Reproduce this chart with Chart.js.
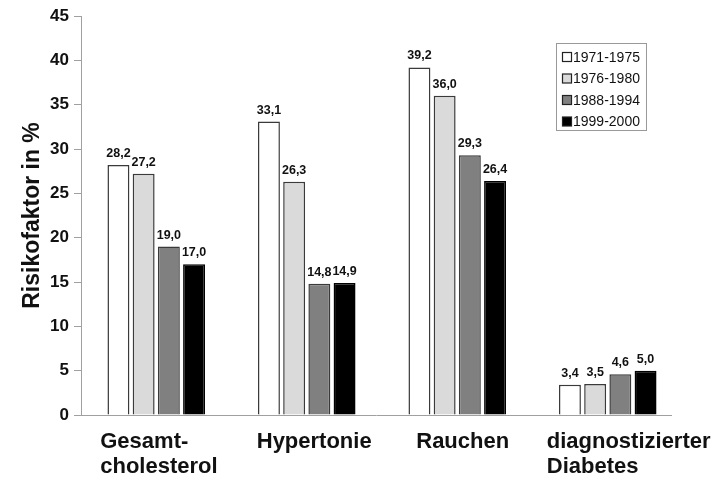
<!DOCTYPE html>
<html>
<head>
<meta charset="utf-8">
<script src="https://cdn.jsdelivr.net/npm/chart.js@4.4.1/dist/chart.umd.min.js"></script>
<style>
  html, body { margin: 0; padding: 0; background: #fff; }
  #wrap { width: 723px; height: 477px; }
</style>
</head>
<body>
<div id="wrap"><canvas id="c"></canvas></div>
<script>
// Risk factors by survey period
const categories = [["Gesamt-", "cholesterol"], ["Hypertonie"], ["Rauchen"], ["diagnostizierter", "Diabetes"]];
const periods = ["1971-1975", "1976-1980", "1988-1994", "1999-2000"];
const values1971 = [28.2, 33.1, 39.2, 3.4];
const values1976 = [27.2, 26.3, 36.0, 3.5];
const values1988 = [19.0, 14.8, 29.3, 4.6];
const values1999 = [17.0, 14.9, 26.4, 5.0];
const yTicks = [0, 5, 10, 15, 20, 25, 30, 35, 40, 45];

const fills = ["#ffffff", "#dadada", "#808080", "#000000"];
const FONT = "Arial, 'Liberation Sans', sans-serif";

const fmt = v => v.toFixed(1).replace(".", ",");

// value labels above bars
const valueLabels = {
  id: "valueLabels",
  afterDatasetsDraw(chart) {
    const ctx = chart.ctx;
    ctx.save();
    ctx.font = "bold 12.5px " + FONT;
    ctx.fillStyle = "#111";
    ctx.textAlign = "center";
    ctx.textBaseline = "alphabetic";
    chart.data.datasets.forEach((ds, di) => {
      chart.getDatasetMeta(di).data.forEach((bar, i) => {
        ctx.fillText(fmt(ds.data[i]), bar.x, bar.y - 8);
      });
    });
    ctx.restore();
  }
};

// baseline, category labels under the axis (left-aligned blocks)
const categoryLabels = {
  id: "categoryLabels",
  afterDraw(chart) {
    const ctx = chart.ctx;
    const x = chart.scales.x;
    const area = chart.chartArea;
    ctx.save();
    ctx.strokeStyle = "#a0a0a0";
    ctx.lineWidth = 1;
    ctx.beginPath();
    ctx.moveTo(area.left, Math.round(area.bottom) + 0.5);
    ctx.lineTo(area.right - 11, Math.round(area.bottom) + 0.5);
    ctx.stroke();

    const shift = [-56, -50, -41, -61];
    ctx.font = "bold 22px " + FONT;
    ctx.fillStyle = "#111";
    ctx.textAlign = "left";
    ctx.textBaseline = "alphabetic";
    categories.forEach((lines, i) => {
      const cx = x.getPixelForValue(i) + shift[i];
      lines.forEach((t, j) => ctx.fillText(t, cx, 448 + j * 25));
    });
    ctx.restore();
  }
};

// boxed legend in the upper right of the plot
const boxLegend = {
  id: "boxLegend",
  afterDraw(chart) {
    const ctx = chart.ctx;
    const left = 556, top = 43, w = 90, h = 87;
    ctx.save();
    ctx.fillStyle = "#fff";
    ctx.fillRect(left, top, w, h);
    ctx.strokeStyle = "#999";
    ctx.lineWidth = 1;
    ctx.strokeRect(left + 0.5, top + 0.5, w, h);
    ctx.font = "14px " + FONT;
    ctx.textBaseline = "middle";
    ctx.textAlign = "left";
    chart.data.datasets.forEach((ds, i) => {
      const y = top + 14 + i * 21.5;
      ctx.fillStyle = ds.backgroundColor;
      ctx.fillRect(left + 6.5, y - 4.5, 9, 9);
      ctx.strokeStyle = "#222";
      ctx.lineWidth = 1.2;
      ctx.strokeRect(left + 6.5, y - 4.5, 9, 9);
      ctx.fillStyle = "#111";
      ctx.fillText(ds.label, left + 17, y + 1);
    });
    ctx.restore();
  }
};

const series = [values1971, values1976, values1988, values1999];

new Chart(document.getElementById("c"), {
  type: "bar",
  data: {
    labels: categories.map(l => l.join(" ")),
    datasets: series.map((vals, i) => ({
      label: periods[i],
      data: vals,
      backgroundColor: fills[i],
      borderColor: i === 3 ? "#000" : "#3a3a3a",
      borderWidth: 1.5,
      categoryPercentage: 0.67,
      barPercentage: 0.87
    }))
  },
  options: {
    responsive: true,
    maintainAspectRatio: false,
    animation: false,
    layout: { padding: { top: 16, right: 40, left: 0, bottom: 0 } },
    plugins: {
      legend: { display: false },
      tooltip: { enabled: false }
    },
    scales: {
      x: {
        afterFit: s => { s.height = 62; },
        grid: { display: false, drawTicks: false },
        border: { display: false },
        ticks: { display: false }
      },
      y: {
        min: 0,
        max: 45,
        afterFit: s => { s.width = 81; },
        afterBuildTicks: s => { s.ticks = yTicks.map(v => ({ value: v })); },
        grid: { drawOnChartArea: false, drawTicks: true, tickLength: 7, color: "#a0a0a0" },
        border: { display: true, color: "#a0a0a0", width: 1 },
        ticks: {
          padding: 5,
          color: "#111",
          font: { family: FONT, size: 17, weight: "bold" }
        },
        title: {
          display: true,
          text: "Risikofaktor in %",
          color: "#111",
          font: { family: FONT, size: 23, weight: "bold" },
          padding: { top: 19, bottom: 0 }
        }
      }
    }
  },
  plugins: [valueLabels, categoryLabels, boxLegend]
});
</script>
</body>
</html>
